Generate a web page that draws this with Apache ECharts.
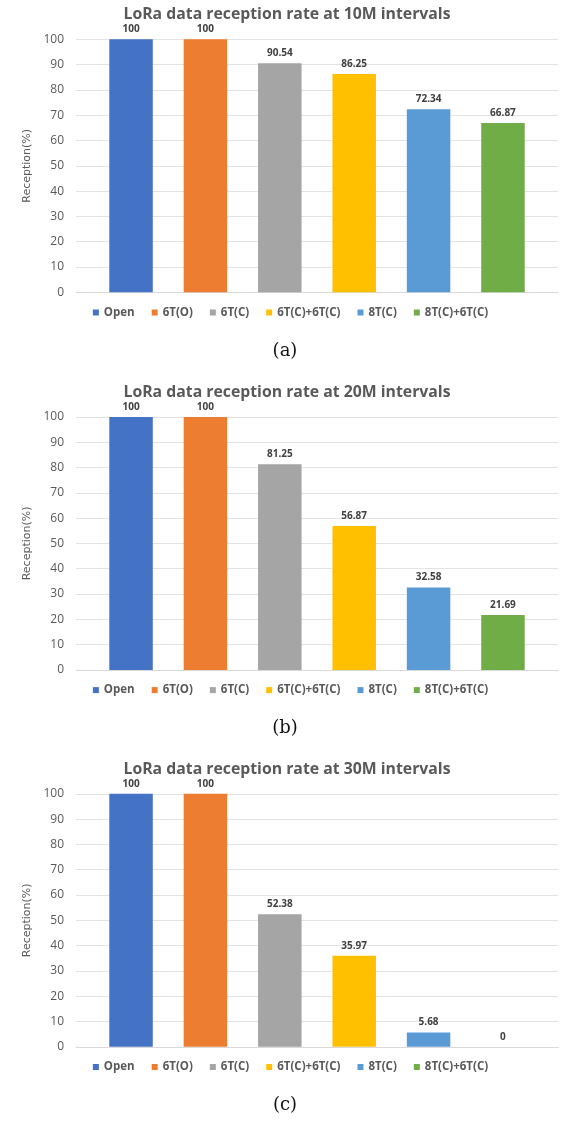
<!DOCTYPE html>
<html><head><meta charset="utf-8">
<script src="https://cdn.jsdelivr.net/npm/echarts@6/dist/echarts.min.js"></script>
<style>html,body{margin:0;padding:0;background:#fff}#c{width:581px;height:1121px}</style>
</head><body><div id="c"></div>
<script>
const seriesNames = ['Open', '6T(O)', '6T(C)', '6T(C)+6T(C)', '8T(C)', '8T(C)+6T(C)'];
const seriesColors = ['#4472C4', '#ED7D31', '#A5A5A5', '#FFC000', '#5B9BD5', '#70AD47'];
const values10M = [100, 100, 90.54, 86.25, 72.34, 66.87];
const values20M = [100, 100, 81.25, 56.87, 32.58, 21.69];
const values30M = [100, 100, 52.38, 35.97, 5.68, 0];
const chartTitles = ['LoRa data reception rate at 10M intervals', 'LoRa data reception rate at 20M intervals', 'LoRa data reception rate at 30M intervals'];
const captions = ['(a)', '(b)', '(c)'];
const yAxisName = 'Reception(%)';
const yMin = 0, yMax = 100, yInterval = 10;

const panels = [values10M, values20M, values30M];
const offsets = [0, 377.6, 754.5];
const FONT = 'Open Sans';
const GRAY = '#595959';

const title = [], grid = [], xAxis = [], yAxis = [], legend = [], series = [];
panels.forEach((vals, i) => {
  const o = offsets[i];
  title.push({
    text: chartTitles[i], left: 287, top: o + 6.5, textAlign: 'center', padding: 0,
    textStyle: {fontFamily: FONT, fontSize: 15.8, fontWeight: 'bold', color: GRAY}
  });
  title.push({
    text: captions[i], left: 285, top: o + 342, textAlign: 'center', padding: 0,
    textStyle: {fontFamily: 'DejaVu Serif', fontSize: 18, fontWeight: 'normal', color: '#111'}
  });
  grid.push({left: 76, width: 482, top: o + 39.3, height: 253});
  xAxis.push({
    type: 'category', gridIndex: i, data: [''],
    axisLine: {show: true, lineStyle: {color: '#d9d9d9', width: 1}},
    axisTick: {show: false}, axisLabel: {show: false}
  });
  yAxis.push({
    type: 'value', gridIndex: i, min: yMin, max: yMax, interval: yInterval,
    name: yAxisName, nameLocation: 'middle', nameGap: 37, nameRotate: 90,
    nameTextStyle: {fontFamily: 'DejaVu Sans', fontSize: 11, color: GRAY},
    axisLine: {show: false}, axisTick: {show: false},
    axisLabel: {fontFamily: FONT, fontSize: 12, color: GRAY, margin: 12},
    splitLine: {lineStyle: {color: '#e3e3e3', width: 1}}
  });
  legend.push({
    data: seriesNames, top: o + 306.5, left: 'center',
    orient: 'horizontal', padding: 0, itemWidth: 6, itemHeight: 6, itemGap: 17,
    icon: 'rect', selectedMode: false,
    textStyle: {fontFamily: FONT, fontSize: 11.5, fontWeight: 'bold', color: GRAY}
  });
  seriesNames.forEach((name, j) => {
    series.push({
      type: 'bar', name: name, xAxisIndex: i, yAxisIndex: i,
      data: [vals[j]], barWidth: 43.5, barGap: '71%',
      itemStyle: {color: seriesColors[j]},
      label: {show: true, position: 'top', distance: 5,
        fontFamily: FONT, fontSize: 10, fontWeight: 'bold', color: '#404040'}
    });
  });
});

const chart = echarts.init(document.getElementById('c'), null, {renderer: 'canvas'});
chart.setOption({
  animation: false, backgroundColor: '#fff',
  title, grid, xAxis, yAxis, legend, series
});
</script></body></html>
